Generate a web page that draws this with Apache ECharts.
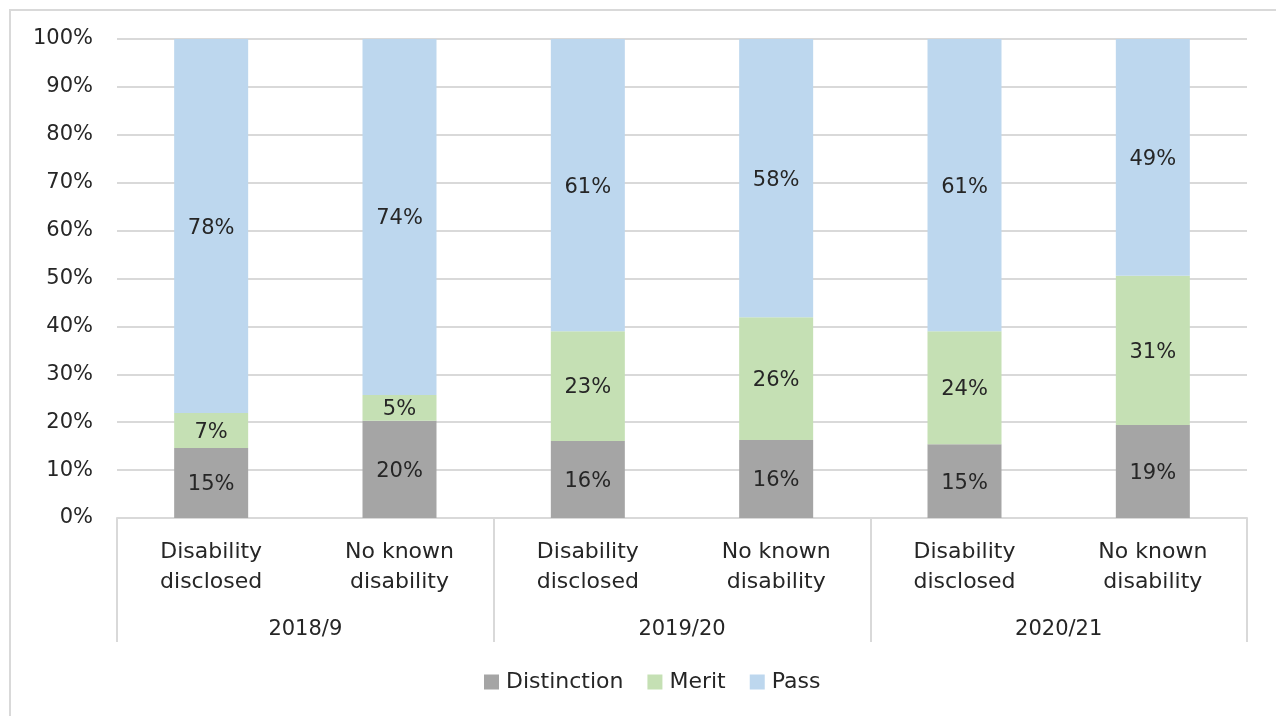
<!DOCTYPE html>
<html>
<head>
<meta charset="utf-8">
<style>
  html, body { margin: 0; padding: 0; background: #ffffff; }
  #chart { width: 1276px; height: 716px; }
</style>
<script src="https://cdn.jsdelivr.net/npm/echarts@6/dist/echarts.min.js"></script>
</head>
<body>
<div id="chart"></div>
<script>
// Student groups within each academic year
const categories = [
  'Disability\ndisclosed', 'No known\ndisability',
  'Disability\ndisclosed', 'No known\ndisability',
  'Disability\ndisclosed', 'No known\ndisability'
];
const years = ['2018/9', '2019/20', '2020/21'];

// Share of results in each grade band (%), per group
const distinction = [14.6, 20.3, 16.1, 16.3, 15.4, 19.4];
const merit       = [7.3, 5.4, 22.9, 25.6, 23.6, 31.2];
const pass        = [78.1, 74.3, 61.0, 58.1, 61.0, 49.4];

const yTicks = { min: 0, max: 100, interval: 10 };

const FONT = 'DejaVu Sans';
const TEXT = '#262626';
const GRID_LINE = '#d9d9d9';

const chart = echarts.init(document.getElementById('chart'), null, { renderer: 'canvas' });

function seg(name, data, color) {
  return {
    name: name,
    type: 'bar',
    stack: 'total',
    barWidth: 74,
    data: data,
    itemStyle: { color: color },
    label: {
      show: true,
      position: 'inside',
      offset: [0, 2],
      color: TEXT,
      fontFamily: FONT,
      fontSize: 21,
      formatter: p => Math.round(p.value) + '%'
    },
    emphasis: { disabled: true }
  };
}

chart.setOption({
  animation: false,
  backgroundColor: '#ffffff',
  graphic: [{
    type: 'rect',
    z: -10,
    silent: true,
    shape: { x: 10, y: 10, width: 1320, height: 780 },
    style: { fill: 'none', stroke: GRID_LINE, lineWidth: 2 }
  }],
  grid: { left: 117, right: 29, top: 39, bottom: 198, containLabel: false },
  legend: {
    left: 479,
    top: 666,
    itemWidth: 15,
    itemHeight: 15,
    itemGap: 24,
    icon: 'rect',
    textStyle: { color: TEXT, fontFamily: FONT, fontSize: 22, padding: [0, 0, 0, 2] },
    data: ['Distinction', 'Merit', 'Pass']
  },
  xAxis: [
    {
      type: 'category',
      data: categories,
      position: 'bottom',
      axisLine: { show: true, lineStyle: { color: GRID_LINE, width: 2 } },
      axisTick: { show: false },
      axisLabel: {
        color: TEXT,
        fontFamily: FONT,
        fontSize: 22,
        lineHeight: 30,
        margin: 19,
        interval: 0
      }
    },
    {
      type: 'category',
      data: years,
      position: 'bottom',
      axisLine: { show: false },
      axisTick: { show: true, length: 124, lineStyle: { color: GRID_LINE, width: 2 } },
      axisLabel: {
        color: TEXT,
        fontFamily: FONT,
        fontSize: 21,
        lineHeight: 24,
        margin: 100,
        interval: 0
      },
      splitLine: { show: false }
    }
  ],
  yAxis: {
    type: 'value',
    min: yTicks.min,
    max: yTicks.max,
    interval: yTicks.interval,
    axisLine: { show: false },
    axisTick: { show: false },
    axisLabel: {
      color: TEXT,
      fontFamily: FONT,
      fontSize: 21,
      margin: 24,
      padding: [4, 0, 0, 0],
      formatter: '{value}%'
    },
    splitLine: { lineStyle: { color: GRID_LINE, width: 2 } }
  },
  series: [
    seg('Distinction', distinction, '#a5a5a5'),
    seg('Merit', merit, '#c5e0b4'),
    seg('Pass', pass, '#bdd7ee')
  ]
});
</script>
</body>
</html>
